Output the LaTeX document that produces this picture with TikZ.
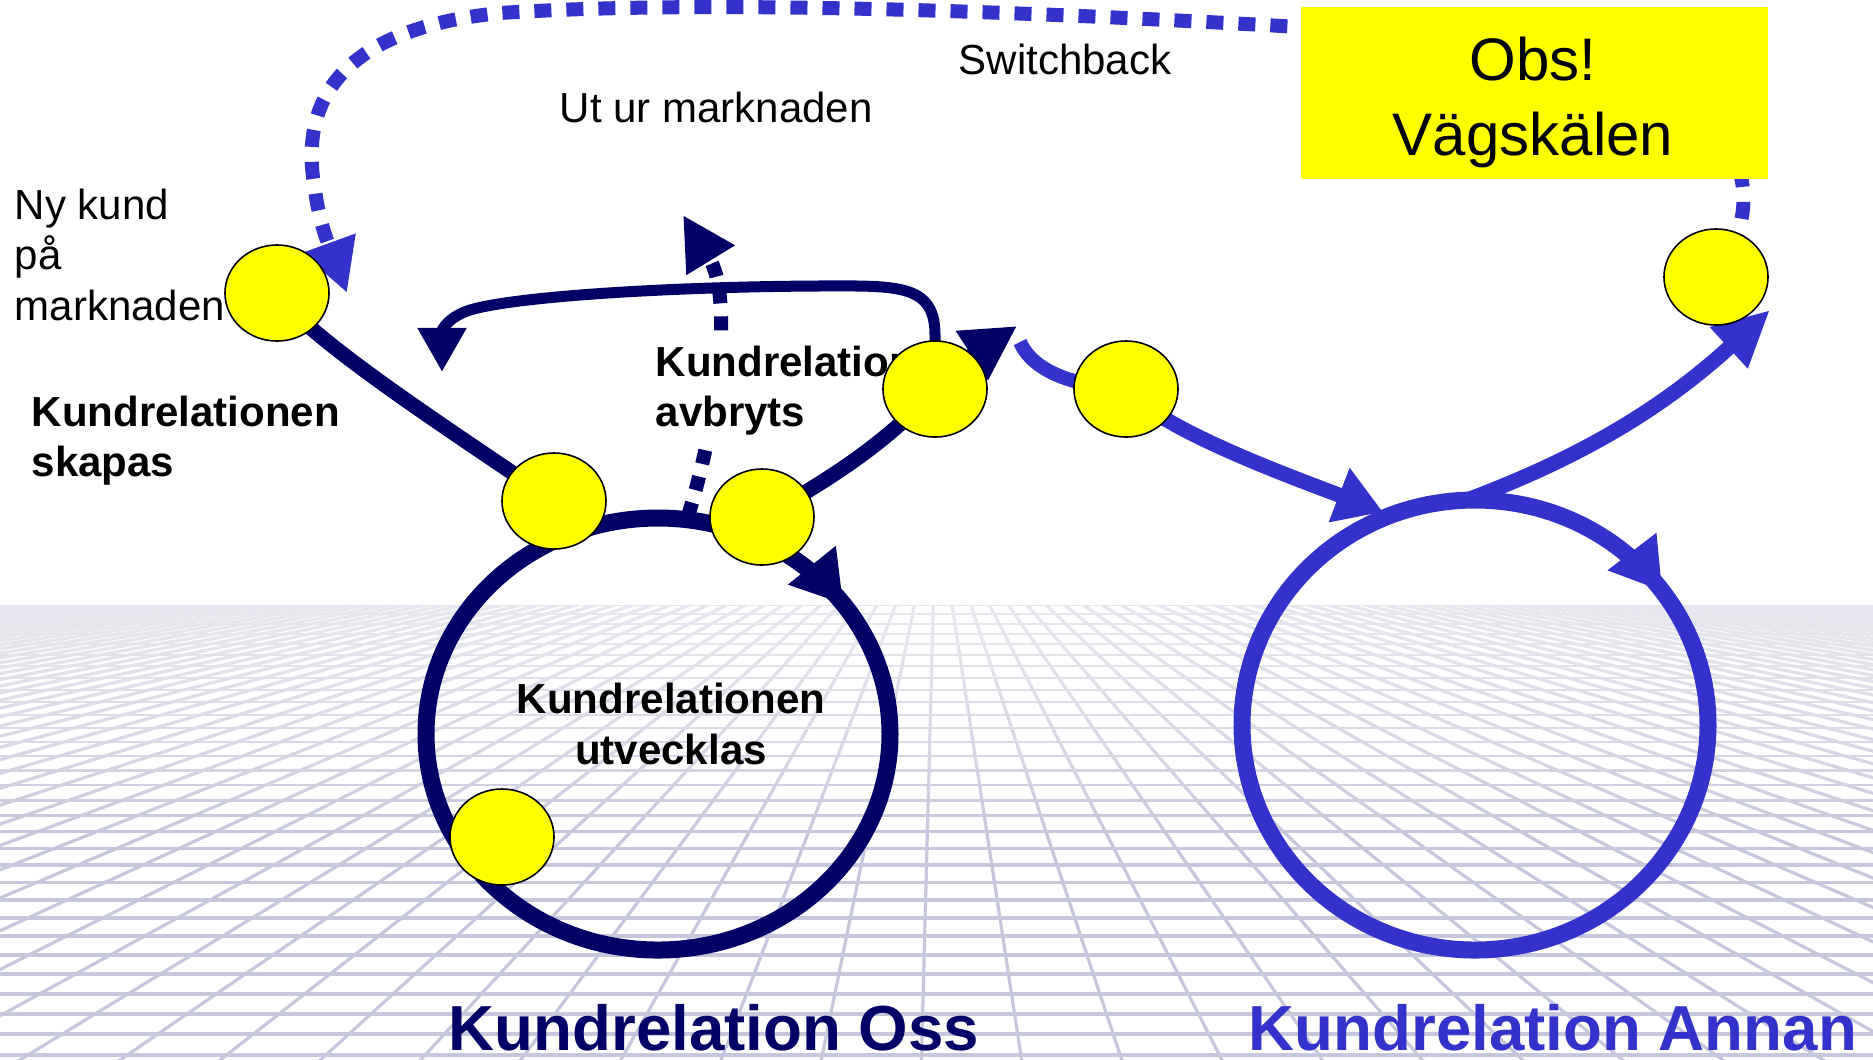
\documentclass[tikz,border=0pt]{standalone}
\usepackage{fontspec}
\setmainfont{Liberation Sans}
\usetikzlibrary{arrows.meta,decorations.markings,shapes.geometric}

\definecolor{navy}{RGB}{0,0,102}
\definecolor{relblue}{RGB}{51,51,204}
\definecolor{marker}{RGB}{255,255,0}
\definecolor{floorline}{RGB}{198,198,220}

\pgfdeclarelayer{floor}
\pgfdeclarelayer{front}
\pgfsetlayers{floor,main,front}

\tikzset{
  txt/.style={font=\fontsize{11.95pt}{14.2pt}\selectfont, inner sep=0pt},
  boldtxt/.style={font=\fontsize{11.95pt}{14.2pt}\selectfont\bfseries, inner sep=0pt},
  obstxt/.style={font=\fontsize{17.07pt}{21.3pt}\selectfont, inner sep=0pt},
  titletxt/.style={font=\fontsize{18.1pt}{21pt}\selectfont\bfseries, inner sep=0pt},
  spot/.style={ellipse, draw=black, line width=0.45pt, fill=marker,
    minimum width=1.04cm, minimum height=0.96cm, inner sep=0pt},
  floorgrid/.style={draw=floorline, line width=0.032cm},
  navyline/.style={draw=navy, line width=0.15cm},
  blueline/.style={draw=relblue, line width=0.15cm},
  loop tip/.style={postaction={decorate}, decoration={markings,
    mark=at position #1 with {\arrow{Triangle[length=0.5cm,width=0.58cm]}}}},
}

\begin{document}
\begin{tikzpicture}[x=0.01cm, y=-0.01cm]
\useasboundingbox (0,0) rectangle (1873,1059);

% perspective floor, fading out towards the horizon
\begin{pgfonlayer}{floor}
  \begin{scope}
    \clip (0,605) rectangle (1873,1059);
    \foreach \k in {-55,...,55}
      \draw[floorgrid] (936,500) -- ({910+178.9*\k},1500);
    \foreach \i in {0,...,31}
      \draw[floorgrid, line width={0.014cm+0.0009cm*\i}]
        (0,{605+9*\i+0.2*\i*\i}) -- (1873,{605+9*\i+0.2*\i*\i});
    \foreach \j in {1,...,14}
      \fill[white, opacity=0.07] (0,605) rectangle (1873,{605+16*\j});
  \end{scope}
\end{pgfonlayer}

% yellow markers, box and labels on top
\begin{pgfonlayer}{front}
  \node[spot] (e1) at (277,293) {};
  \node[spot] (e2) at (554,501) {};
  \node[spot] (e3) at (762,517) {};
  \node[spot] (e4) at (502,837) {};
  \node[spot] (e5) at (935,389) {};
  \node[spot] (e6) at (1126,389) {};
  \node[spot] (e7) at (1716,277) {};

  \node[fill=marker, inner sep=0pt, minimum width=4.67cm, minimum height=1.72cm,
        anchor=north west] (obs) at (1300,6) {};
  \node[obstxt, anchor=base] (obs1) at (1533,80) {Obs!};
  \node[obstxt, anchor=base] (obs2) at (1533,155) {Vägskälen};

  \node[txt, anchor=base west] (ny1) at (14,219) {Ny kund};
  \node[txt, anchor=base west] (ny2) at (14,269) {på};
  \node[txt, anchor=base west] (ny3) at (14,320) {marknaden};

  \node[boldtxt, anchor=base west] (sk1) at (31,426) {Kundrelationen};
  \node[boldtxt, anchor=base west] (sk2) at (31,476) {skapas};

  \node[txt, anchor=base west] (ut) at (559,122) {Ut ur marknaden};
  \node[txt, anchor=base west] (sw) at (958,74) {Switchback};

  \node[boldtxt, anchor=base] (utv1) at (671,713) {Kundrelationen};
  \node[boldtxt, anchor=base] (utv2) at (671,764) {utvecklas};

  \node[titletxt, text=navy, anchor=base west] (oss) at (448,1050) {Kundrelation Oss};
  \node[titletxt, text=relblue, anchor=base west] (annan) at (1248,1050) {Kundrelation Annan};
\end{pgfonlayer}

% free ends of connectors
\coordinate (lctop) at (688,516);
\coordinate (outtip) at (683,215);
\coordinate (swtip) at (1017,326);
\coordinate (looptip) at (442,372);
\coordinate (backtip) at (347,293);
\coordinate (annstart) at (1020,342);
\coordinate (anntip) at (1383,512);
\coordinate (rctop) at (1467,500);
\coordinate (exittip) at (1770,310);

% leaving the market (dotted)
\draw[navy, line width=0.14cm, dash pattern=on 0.14cm off 0.13cm,
      -{Triangle[length=0.53cm,width=0.53cm]}]
  (lctop) .. controls (715,430) and (735,300) .. (outtip);

% label that masks the dotted line
\node[boldtxt, fill=white, inner ysep=0.1cm, anchor=base west] (avb1) at (655,376) {Kundrelation};
\node[boldtxt, fill=white, inner ysep=0.1cm, anchor=base west] (avb2) at (655,426) {avbryts};

% own relationship cycle
\draw[navyline, line width=0.17cm, loop tip=0.9] (658,734) ellipse [x radius=232, y radius=216];

\draw[navyline] (e1.center) .. controls (310,340) and (450,430) .. (e2.center);
\draw[navyline] (e3.center) .. controls (830,480) and (890,440) .. (e5.center);
\draw[navyline, -{Triangle[length=0.54cm,width=0.55cm]}]
  (e5.center) .. controls (965,360) .. (swtip);
\draw[navyline, line width=0.11cm, -{Triangle[length=0.44cm,width=0.46cm]}]
  (e5.center) -- (935,335) .. controls (935,293) and (910,287) .. (860,286)
  .. controls (700,285) and (520,295) .. (470,310)
  .. controls (448,317) and (442,330) .. (looptip);

% switchback (dashed)
\draw[relblue, line width=0.14cm, dash pattern=on 0.17cm off 0.15cm,
      -{Triangle[length=0.53cm,width=0.53cm]}]
  (e7.center) .. controls (1800,150) and (1700,40) .. (1300,27)
  .. controls (1000,10) and (700,0) .. (500,13)
  .. controls (330,30) and (300,110) .. (315,190)
  .. controls (320,230) and (335,260) .. (backtip);

% other relationship cycle
\draw[blueline, line width=0.17cm, loop tip=0.9] (1475,725) ellipse [x radius=233, y radius=225];

\draw[blueline, line width=0.14cm] (annstart) .. controls (1030,365) and (1060,385) .. (e6.center);
\draw[blueline, -{Triangle[length=0.47cm,width=0.55cm]}]
  (e6.center) .. controls (1160,430) and (1300,480) .. (anntip);
\draw[blueline, -{Triangle[length=0.56cm,width=0.52cm]}]
  (rctop) .. controls (1560,465) and (1650,420) .. (exittip);

\end{tikzpicture}
\end{document}
